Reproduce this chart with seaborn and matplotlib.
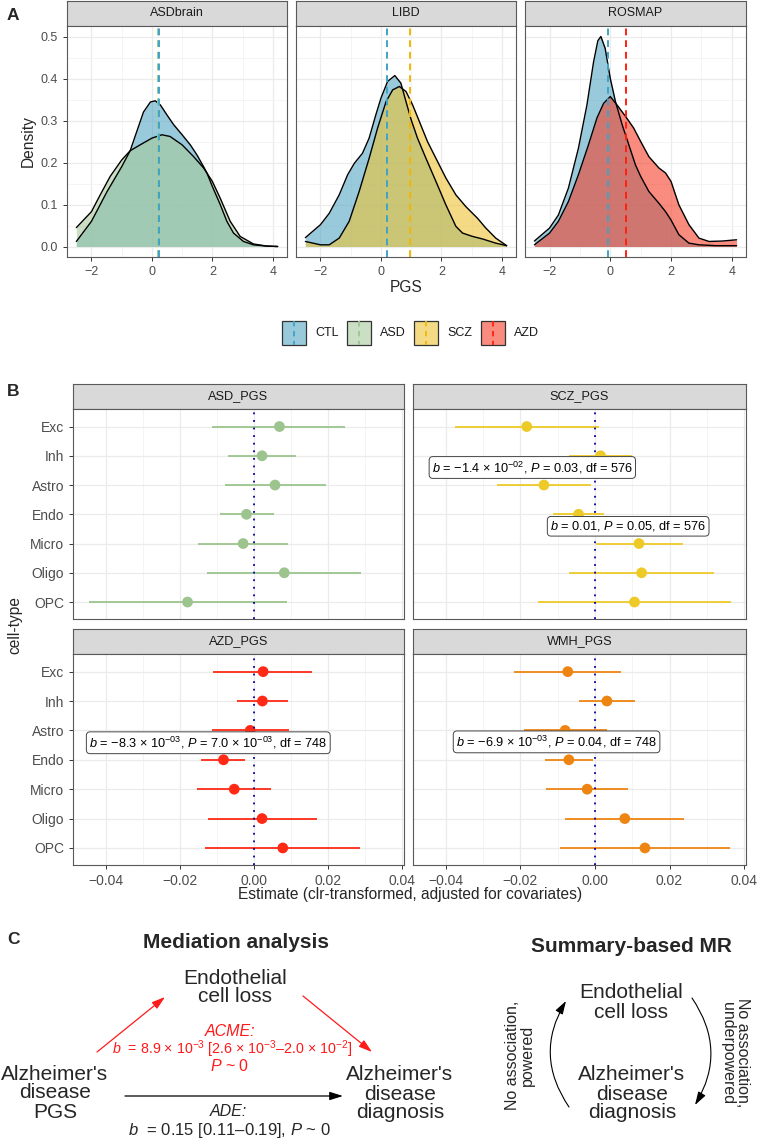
import numpy as np
import pandas as pd
import matplotlib
matplotlib.use("Agg")
import matplotlib.pyplot as plt
import seaborn as sns
from matplotlib.patches import Rectangle
from matplotlib.colors import to_rgba

sns.set_theme(style="white")
plt.rcParams['font.family'] = ['Liberation Sans', 'DejaVu Sans']
plt.rcParams['mathtext.fontset'] = 'custom'
plt.rcParams['mathtext.rm'] = 'Liberation Sans'
plt.rcParams['mathtext.it'] = 'Liberation Sans:italic'
plt.rcParams['mathtext.bf'] = 'Liberation Sans:bold'
plt.rcParams['mathtext.sf'] = 'Liberation Sans'

MINUS = '\u2212'

# ---------------- Panel A data (density curves) ----------------
asd_ctl_x = [-2.5, -2.0, -1.49, -1.0, -0.72, -0.5, -0.28, -0.05, 0.11, 0.28, 0.5, 0.72, 1.0, 1.27, 1.49, 1.71, 1.82, 2.0, 2.26, 2.48, 2.7, 3.03, 3.36, 3.8, 4.16]
asd_ctl_d = [0.012, 0.06, 0.13, 0.19, 0.228, 0.274, 0.32, 0.344, 0.347, 0.337, 0.313, 0.29, 0.266, 0.242, 0.218, 0.19, 0.175, 0.143, 0.10, 0.06, 0.032, 0.012, 0.004, 0.001, 0.0]
asd_x = [-2.5, -2.0, -1.71, -1.38, -1.0, -0.72, -0.39, 0.0, 0.33, 0.6, 1.0, 1.38, 1.71, 2.0, 2.26, 2.59, 2.92, 3.36, 3.8, 4.16]
asd_d = [0.045, 0.083, 0.123, 0.167, 0.206, 0.228, 0.242, 0.258, 0.266, 0.262, 0.242, 0.214, 0.187, 0.155, 0.115, 0.06, 0.024, 0.006, 0.001, 0.0]

libd_ctl_x = [-2.5, -2.0, -1.71, -1.38, -1.1, -0.88, -0.61, -0.39, -0.17, 0.0, 0.22, 0.46, 0.66, 0.83, 1.0, 1.21, 1.49, 1.82, 2.15, 2.48, 2.7, 3.03, 3.36, 3.8, 4.16]
libd_ctl_d = [0.021, 0.052, 0.079, 0.123, 0.171, 0.198, 0.222, 0.258, 0.313, 0.353, 0.393, 0.407, 0.389, 0.345, 0.302, 0.258, 0.21, 0.155, 0.099, 0.048, 0.032, 0.024, 0.018, 0.008, 0.002]
scz_x = [-2.5, -2.25, -2.0, -1.71, -1.38, -1.05, -0.72, -0.39, -0.11, 0.17, 0.39, 0.61, 0.83, 1.05, 1.27, 1.54, 1.82, 2.15, 2.48, 2.81, 3.2, 3.47, 3.8, 4.16]
scz_d = [0.012, 0.008, 0.004, 0.004, 0.02, 0.06, 0.131, 0.21, 0.282, 0.345, 0.373, 0.381, 0.369, 0.337, 0.298, 0.25, 0.21, 0.163, 0.123, 0.095, 0.067, 0.044, 0.02, 0.002]

ros_ctl_x = [-2.5, -2.0, -1.71, -1.38, -1.05, -0.77, -0.55, -0.41, -0.31, -0.17, 0.0, 0.17, 0.39, 0.61, 0.83, 1.0, 1.27, 1.6, 1.82, 2.0, 2.26, 2.59, 2.92, 3.47, 4.16]
ros_ctl_d = [0.013, 0.044, 0.075, 0.139, 0.234, 0.337, 0.44, 0.49, 0.50, 0.472, 0.40, 0.345, 0.29, 0.242, 0.194, 0.167, 0.131, 0.103, 0.083, 0.063, 0.028, 0.008, 0.004, 0.002, 0.002]
azd_x = [-2.5, -2.0, -1.71, -1.38, -1.05, -0.72, -0.44, -0.22, 0.0, 0.22, 0.5, 0.77, 1.0, 1.27, 1.6, 1.82, 2.0, 2.26, 2.59, 2.92, 3.25, 3.69, 4.16]
azd_d = [0.004, 0.032, 0.06, 0.107, 0.171, 0.242, 0.306, 0.341, 0.357, 0.337, 0.31, 0.282, 0.25, 0.214, 0.187, 0.175, 0.155, 0.099, 0.052, 0.02, 0.012, 0.013, 0.016]

cohorts = ['ASDbrain', 'LIBD', 'ROSMAP']
disease_of = {'ASDbrain': 'ASD', 'LIBD': 'SCZ', 'ROSMAP': 'AZD'}
group_means = {'ASDbrain': (0.22, 0.19), 'LIBD': (0.20, 0.95), 'ROSMAP': (-0.08, 0.52)}
groups = ['CTL', 'ASD', 'SCZ', 'AZD']
group_colors = {'CTL': '#56A8C6', 'ASD': '#A8CB9B', 'SCZ': '#EDC233', 'AZD': '#F63F28'}
line_colors = {'CTL': '#3FA3C8', 'ASD': '#9CC690', 'SCZ': '#F2B705', 'AZD': '#FF2010'}
curves = {
    'ASDbrain': ((asd_ctl_x, asd_ctl_d), (asd_x, asd_d)),
    'LIBD': ((libd_ctl_x, libd_ctl_d), (scz_x, scz_d)),
    'ROSMAP': ((ros_ctl_x, ros_ctl_d), (azd_x, azd_d)),
}

# ---------------- Panel B data ----------------
cell_types = ['Exc', 'Inh', 'Astro', 'Endo', 'Micro', 'Oligo', 'OPC']
pgs_panels = ['ASD_PGS', 'SCZ_PGS', 'AZD_PGS', 'WMH_PGS']
asd_est = [0.0069, 0.0022, 0.0057, -0.0020, -0.0029, 0.0082, -0.0179]
asd_lo = [-0.0112, -0.0070, -0.0078, -0.0092, -0.0150, -0.0127, -0.0446]
asd_hi = [0.0247, 0.0113, 0.0194, 0.0054, 0.0092, 0.0290, 0.0088]
scz_est = [-0.0183, 0.0015, -0.0137, -0.0044, 0.0118, 0.0125, 0.0106]
scz_lo = [-0.0375, -0.0069, -0.0263, -0.0112, 0.0003, -0.0069, -0.0153]
scz_hi = [0.0010, 0.0100, -0.0010, 0.0024, 0.0235, 0.0318, 0.0365]
azd_est = [0.0025, 0.0023, -0.0010, -0.0082, -0.0053, 0.0022, 0.0078]
azd_lo = [-0.0109, -0.0046, -0.0112, -0.0143, -0.0154, -0.0125, -0.0132]
azd_hi = [0.0158, 0.0092, 0.0095, -0.0023, 0.0047, 0.0169, 0.0287]
wmh_est = [-0.0073, 0.0032, -0.0080, -0.0070, -0.0021, 0.0080, 0.0134]
wmh_lo = [-0.0218, -0.0042, -0.0191, -0.0135, -0.0130, -0.0080, -0.0093]
wmh_hi = [0.0070, 0.0108, 0.0032, -0.0004, 0.0089, 0.0239, 0.0361]
pgs_data = {
    'ASD_PGS': (asd_est, asd_lo, asd_hi),
    'SCZ_PGS': (scz_est, scz_lo, scz_hi),
    'AZD_PGS': (azd_est, azd_lo, azd_hi),
    'WMH_PGS': (wmh_est, wmh_lo, wmh_hi),
}
pgs_colors = {'ASD_PGS': '#9DC48E', 'SCZ_PGS': '#EECA28', 'AZD_PGS': '#FF2A16', 'WMH_PGS': '#EE8512'}
b_xticks = [-0.04, -0.02, 0.0, 0.02, 0.04]
b_xticklabels = [MINUS + '0.04', MINUS + '0.02', '0.00', '0.02', '0.04']
annotations = {
    'SCZ_PGS': [(-0.0168, 1.4, "$b$ = " + MINUS + "1.4 × 10$^{-02}$, $P$ = 0.03, df = 576"),
                (0.0089, 3.41, "$b$ = 0.01, $P$ = 0.05, df = 576")],
    'AZD_PGS': [(-0.0123, 2.42, "$b$ = " + MINUS + "8.3 × 10$^{-03}$, $P$ = 7.0 × 10$^{-03}$, df = 748")],
    'WMH_PGS': [(-0.0103, 2.39, "$b$ = " + MINUS + "6.9 × 10$^{-03}$, $P$ = 0.04, df = 748")],
}

# ---------------- figure ----------------
W, H = 758, 1142
fig = plt.figure(figsize=(W / 100, H / 100), dpi=100)
fig.patch.set_facecolor('white')


def pax(l, t, r, b):
    return fig.add_axes([l / W, 1 - b / H, (r - l) / W, (b - t) / H])


def style_panel(ax):
    ax.set_facecolor('white')
    for s in ax.spines.values():
        s.set_visible(True)
        s.set_color('#595959')
        s.set_linewidth(0.8)
    ax.grid(which='major', color='#EBEBEB', lw=0.9)
    ax.grid(which='minor', color='#F2F2F2', lw=0.6)
    ax.set_axisbelow(True)
    ax.tick_params(which='major', direction='out', length=3, width=0.7,
                   color='#333333', labelcolor='#4D4D4D', bottom=True, left=True)
    ax.tick_params(which='minor', length=0)


def strip(l, t, r, b, label, fs):
    s = pax(l, t, r, b)
    s.set_facecolor('#D9D9D9')
    s.set_xticks([])
    s.set_yticks([])
    for sp in s.spines.values():
        sp.set_visible(True)
        sp.set_color('#595959')
        sp.set_linewidth(0.8)
    s.text(0.5, 0.5, label, ha='center', va='center', fontsize=fs, color='#1A1A1A',
           transform=s.transAxes)


# ---------------- Panel A ----------------
a_boxes = [(67, 287), (296, 516), (525, 746)]
for i, coh in enumerate(cohorts):
    l, r = a_boxes[i]
    strip(l, 1, r, 26, coh, 9)
    ax = pax(l, 26, r, 257)
    style_panel(ax)
    dis = disease_of[coh]
    for grp, (xs, ds) in zip(['CTL', dis], curves[coh]):
        ax.fill_between(xs, ds, 0, color=group_colors[grp], alpha=0.6, lw=0)
        sns.lineplot(x=xs, y=ds, ax=ax, color='black', lw=1.0, sort=False)
    m_ctl, m_dis = group_means[coh]
    ax.axvline(m_dis, color=line_colors[dis], ls=(0, (3.5, 2.5)), lw=1.4)
    ax.axvline(m_ctl, color=line_colors['CTL'], ls=(0, (3.5, 2.5)), lw=1.4)
    ax.set_xlim(-2.81, 4.47)
    ax.set_ylim(-0.025, 0.525)
    ax.set_xticks([-2, 0, 2, 4])
    ax.set_xticklabels([MINUS + '2', '0', '2', '4'], fontsize=9)
    ax.set_xticks([-1, 1, 3], minor=True)
    ax.set_yticks([0, 0.1, 0.2, 0.3, 0.4, 0.5])
    ax.set_yticks([0.05, 0.15, 0.25, 0.35, 0.45], minor=True)
    if i == 0:
        ax.set_yticklabels(['0.0', '0.1', '0.2', '0.3', '0.4', '0.5'], fontsize=9)
    else:
        ax.tick_params(axis='y', which='both', left=False, labelleft=False)
    ax.set_xlabel('')
    ax.set_ylabel('')

# ---------------- Panel B ----------------
b_boxes = {'ASD_PGS': (73, 409, 404, 619), 'SCZ_PGS': (413, 409, 746, 619),
           'AZD_PGS': (73, 654, 404, 865), 'WMH_PGS': (413, 654, 746, 865)}
for name in pgs_panels:
    l, t, r, b = b_boxes[name]
    strip(l, t - 25, r, t, name, 9.2)
    ax = pax(l, t, r, b)
    style_panel(ax)
    est, lo, hi = pgs_data[name]
    df = pd.DataFrame({'cell': cell_types, 'y': np.arange(len(cell_types)),
                       'est': est, 'lo': lo, 'hi': hi})
    col = pgs_colors[name]
    ax.hlines(df['y'], df['lo'], df['hi'], color=col, lw=1.3, zorder=3)
    sns.scatterplot(data=df, x='est', y='y', ax=ax, color=col, s=60,
                    edgecolor='none', zorder=4, legend=False)
    ax.axvline(0, color='#00009C', ls=(0, (1, 3.2)), lw=1.3, zorder=5)
    for (ax_x, ax_y, txt) in annotations.get(name, []):
        ax.text(ax_x, ax_y, txt, ha='center', va='center', fontsize=9.2, color='black',
                zorder=6, bbox=dict(boxstyle='round,pad=0.22,rounding_size=0.3',
                                    fc='white', ec='#444444', lw=0.7))
    ax.set_xlim(-0.0488, 0.0405)
    ax.set_ylim(6.58, -0.6)
    ax.set_xticks(b_xticks)
    ax.set_xticks([-0.03, -0.01, 0.01, 0.03], minor=True)
    ax.set_yticks(range(len(cell_types)))
    ax.yaxis.grid(True, which='major', color='#EBEBEB', lw=0.9)
    if name in ('AZD_PGS', 'WMH_PGS'):
        ax.set_xticklabels(b_xticklabels, fontsize=10)
    else:
        ax.tick_params(axis='x', which='both', bottom=False, labelbottom=False)
    if name in ('ASD_PGS', 'AZD_PGS'):
        ax.set_yticklabels(cell_types, fontsize=10)
    else:
        ax.tick_params(axis='y', which='both', left=False, labelleft=False)
    ax.set_xlabel('')
    ax.set_ylabel('')

# ---------------- overlay (titles, legend, panel C) ----------------
ov = fig.add_axes([0, 0, 1, 1], zorder=20)
ov.set_xlim(0, W)
ov.set_ylim(H, 0)
ov.axis('off')
ov.patch.set_alpha(0)

ov.text(13, 15, 'A', fontsize=12.5, fontweight='bold', ha='center', va='center')
ov.text(13, 392, 'B', fontsize=12.5, fontweight='bold', ha='center', va='center')
ov.text(13, 940, 'C', fontsize=12.5, fontweight='bold', ha='center', va='center')

ov.text(28, 141, 'Density', rotation=90, fontsize=11.2, ha='center', va='center')
ov.text(406, 287, 'PGS', fontsize=11.2, ha='center', va='center')
ov.text(15, 625, 'cell-type', rotation=90, fontsize=11.2, ha='center', va='center')
ov.text(410, 895, 'Estimate (clr-transformed, adjusted for covariates)', fontsize=11.2,
        ha='center', va='center')

# legend for panel A
key_left = [282, 347, 414, 481]
for kl, grp in zip(key_left, groups):
    ov.add_patch(Rectangle((kl, 321), 24, 24, facecolor=to_rgba(group_colors[grp], 0.6),
                           edgecolor='#333333', lw=0.9))
    ov.plot([kl + 12, kl + 12], [321, 345], color=line_colors[grp], lw=1.3, ls=(0, (3, 2.5)))
    ov.text(kl + 33, 333, grp, fontsize=9, ha='left', va='center', color='#1A1A1A')

# Panel C: mediation analysis
ov.text(236, 943, 'Mediation analysis', fontsize=15, fontweight='bold', ha='center', va='center')
ov.text(235, 987.5, 'Endothelial\ncell loss', fontsize=15, ha='center', va='center', linespacing=1.0)
ov.text(55, 1093, "Alzheimer's\ndisease\nPGS", fontsize=15, ha='center', va='center', linespacing=1.0)
ov.text(400, 1094, "Alzheimer's\ndisease\ndiagnosis", fontsize=15, ha='center', va='center', linespacing=1.0)
red = '#FF1A1A'
ov.text(230, 1032, 'ACME:', fontsize=11.5, style='italic', color=red, ha='center', va='center')
ov.text(232, 1049, "$b$  = 8.9 × 10$^{-3}$ [2.6 × 10$^{-3}$–2.0 × 10$^{-2}$]", fontsize=10.3,
        color=red, ha='center', va='center')
ov.text(230, 1066, "$P$ ~ 0", fontsize=11.5, color=red, ha='center', va='center')
ov.text(228, 1112, 'ADE:', fontsize=11.5, style='italic', ha='center', va='center')
ov.text(229, 1131, "$b$  = 0.15 [0.11–0.19], $P$ ~ 0", fontsize=12, ha='center', va='center')

arrow_kw = dict(arrowstyle='-|>,head_length=0.8,head_width=0.25', mutation_scale=10,
                shrinkA=0, shrinkB=0)
ov.annotate('', xy=(165, 997), xytext=(97, 1052),
            arrowprops=dict(color=red, lw=0.9, **arrow_kw))
ov.annotate('', xy=(372, 1052), xytext=(303, 996),
            arrowprops=dict(color=red, lw=0.9, **arrow_kw))
ov.annotate('', xy=(343, 1096), xytext=(125, 1096),
            arrowprops=dict(color='black', lw=0.9, **arrow_kw))

# Panel C: summary-based MR
ov.text(631, 947, 'Summary-based MR', fontsize=15, fontweight='bold', ha='center', va='center')
ov.text(631, 1002.5, 'Endothelial\ncell loss', fontsize=15, ha='center', va='center', linespacing=1.0)
ov.text(632, 1094, "Alzheimer's\ndisease\ndiagnosis", fontsize=15, ha='center', va='center', linespacing=1.0)
ov.text(520, 1055, 'No association,\npowered', rotation=90, fontsize=11.5, ha='center',
        va='center', linespacing=0.95)
ov.text(735, 1053, 'No association,\nunderpowered', rotation=270, fontsize=11.5, ha='center',
        va='center', linespacing=0.95)
ov.annotate('', xy=(566, 1001), xytext=(569, 1107),
            arrowprops=dict(color='black', lw=0.8, connectionstyle='arc3,rad=-0.32', **arrow_kw))
ov.annotate('', xy=(695, 1105), xytext=(692, 998),
            arrowprops=dict(color='black', lw=0.8, connectionstyle='arc3,rad=-0.32', **arrow_kw))

fig.savefig('out.png', dpi=100, facecolor='white')
